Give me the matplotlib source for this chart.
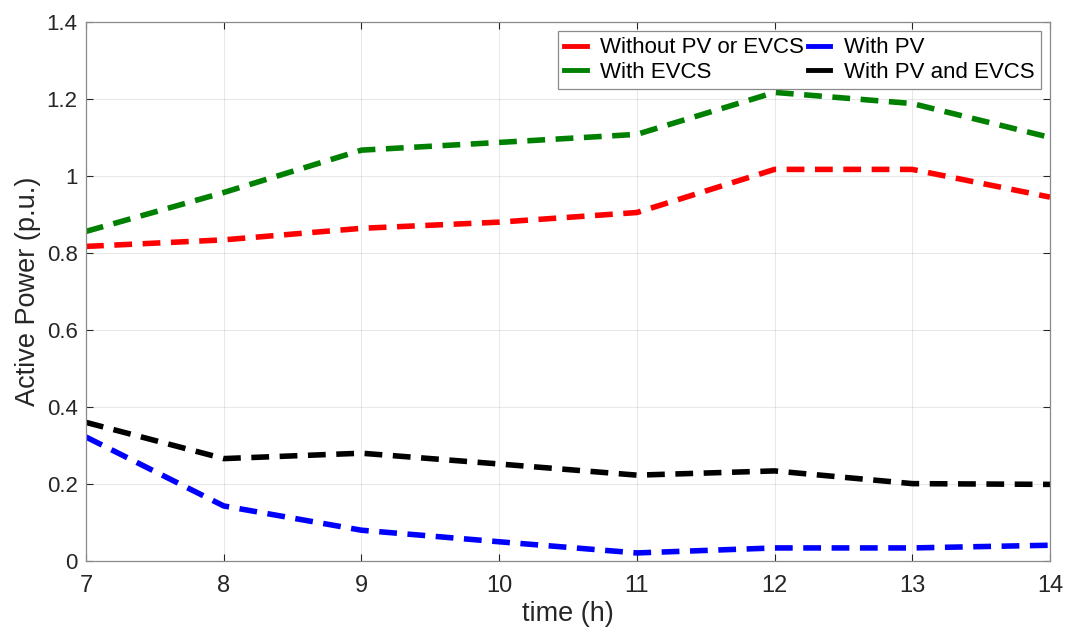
import matplotlib

matplotlib.use("Agg")
import matplotlib.pyplot as plt  # noqa: E402

hours = [7, 8, 9, 10, 11, 12, 13, 14]
without_pv_evcs = [0.817, 0.834, 0.864, 0.880, 0.905, 1.017, 1.017, 0.945]
with_evcs = [0.856, 0.957, 1.067, 1.087, 1.108, 1.217, 1.188, 1.100]
with_pv = [0.322, 0.143, 0.080, 0.050, 0.021, 0.034, 0.034, 0.041]
with_pv_evcs = [0.360, 0.266, 0.280, 0.252, 0.223, 0.234, 0.201, 0.199]

series = [
    ("Without PV or EVCS", without_pv_evcs, "#ff0000"),
    ("With EVCS", with_evcs, "#008000"),
    ("With PV", with_pv, "#0000ff"),
    ("With PV and EVCS", with_pv_evcs, "#000000"),
]

INK = "#262626"

plt.rcParams.update(
    {
        "font.family": ["Liberation Sans", "DejaVu Sans"],
        "xtick.direction": "in",
        "ytick.direction": "in",
    }
)

fig = plt.figure(figsize=(10.7, 6.35), dpi=100)
ax = fig.add_axes([0.0804, 0.1165, 0.9009, 0.849])

for label, vals, color in series:
    ax.plot(hours, vals, color=color, lw=4.0, ls=(0, (3.2, 1.9)),
            dash_capstyle="butt", label=label)

ax.set_xlim(7, 14)
ax.set_ylim(0, 1.4)
ax.set_xticks(hours)
ax.set_yticks([0, 0.2, 0.4, 0.6, 0.8, 1.0, 1.2, 1.4])
ax.set_yticklabels(["0", "0.2", "0.4", "0.6", "0.8", "1", "1.2", "1.4"])
ax.grid(True, color="#000000", alpha=0.09, lw=0.8)
ax.tick_params(axis="both", which="both", colors=INK, length=5,
               width=0.8, top=True, right=True)
ax.tick_params(axis="x", pad=10, labelsize=17)
ax.tick_params(axis="y", pad=6, labelsize=16)
for s in ax.spines.values():
    s.set_color("#8a8a8a")
    s.set_linewidth(0.9)

ax.set_xlabel("time (h)", fontsize=19.5, color=INK, labelpad=3)
ax.set_ylabel("Active Power (p.u.)", fontsize=19.5, color=INK, labelpad=4)

leg = ax.legend(loc="upper right", ncol=2, fontsize=16, frameon=True,
                fancybox=False, edgecolor="#8a8a8a", framealpha=1,
                handlelength=1.0, handletextpad=0.6, columnspacing=0.2,
                borderaxespad=0.4, borderpad=0.3, labelspacing=0.15)
leg.get_frame().set_linewidth(0.9)
for h in leg.get_lines():
    h.set_linestyle("-")
    h.set_linewidth(3.5)

fig.savefig("out.png", dpi=100)
